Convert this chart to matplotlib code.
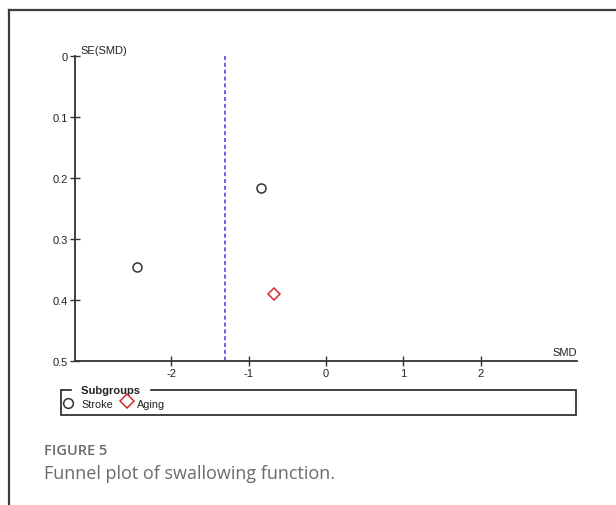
import matplotlib.pyplot as plt
from matplotlib.lines import Line2D
from matplotlib.patches import Rectangle

# dados
stroke_smd = [-0.835, -2.444]
stroke_se = [0.216, 0.346]
aging_smd = [-0.667]
aging_se = [0.390]
pooled_smd = -1.30
y_ticks = [0, 0.1, 0.2, 0.3, 0.4, 0.5]
y_labels = ["0", "0.1", "0.2", "0.3", "0.4", "0.5"]
x_ticks = [-2, -1, 0, 1, 2]
x_labels = ["-2", "-1", "0", "1", "2"]

W, H = 616, 506
fig = plt.figure(figsize=(W / 100, H / 100), dpi=100)
plt.rcParams['font.family'] = ['Liberation Sans', 'DejaVu Sans']

def px(x, y):
    return x / W, 1 - y / H

# moldura externa (linha superior e esquerda)
frame_col = "#3c3c3c"
fig.add_artist(Line2D([px(9, 0)[0], 1], [px(0, 10.5)[1]] * 2, color=frame_col, lw=1.6))
fig.add_artist(Line2D([px(9.3, 0)[0]] * 2, [0, px(0, 10.5)[1]], color=frame_col, lw=1.6))

ax = fig.add_axes([75 / W, (H - 362) / H, (577 - 75) / W, (362 - 57.3) / H])
ax.set_xlim(-3.24, 3.24)
ax.set_ylim(0.5, 0)

axis_col = "#333333"
for s in ["top", "right"]:
    ax.spines[s].set_visible(False)
for s in ["left", "bottom"]:
    ax.spines[s].set_color(axis_col)
    ax.spines[s].set_linewidth(1.3)

ax.set_xticks(x_ticks)
ax.set_xticklabels(x_labels)
ax.set_yticks(y_ticks)
ax.set_yticklabels(y_labels)
ax.tick_params(direction="inout", length=7, width=1.0, color=axis_col,
               labelsize=8, labelcolor="#222222", pad=1.5)

ax.plot([pooled_smd, pooled_smd], [0, 0.5], color="#4a4ae0", lw=1.2,
        linestyle=(0, (2.4, 1.7)))

ax.plot(stroke_smd, stroke_se, linestyle="none", marker="o", markersize=6.5,
        markerfacecolor="white", markeredgecolor="#333333", markeredgewidth=1.1,
        clip_on=False)
ax.plot(aging_smd, aging_se, linestyle="none", marker="D", markersize=6.5,
        markerfacecolor="white", markeredgecolor="#d42a2a", markeredgewidth=1.1,
        clip_on=False)

ax.annotate("SE(SMD)", xy=(0, 1), xycoords="axes fraction", xytext=(4, 1),
            textcoords="offset points", ha="left", va="bottom", fontsize=8,
            color="#222222")
ax.annotate("SMD", xy=(1, 0), xycoords="axes fraction", xytext=(0, 3),
            textcoords="offset points", ha="right", va="bottom", fontsize=8,
            color="#222222")

# legenda em caixa de grupo
x0, y0 = px(61, 416)
x1, y1 = px(576, 391)
fig.add_artist(Rectangle((x0, y0), x1 - x0, y1 - y0, transform=fig.transFigure,
                         facecolor="none", edgecolor="#333333", lw=1.3))
tx, ty = px(78, 391)
fig.text(tx, ty, " Subgroups ", fontsize=8, fontweight="bold", color="#222222",
         ha="left", va="center", backgroundcolor="white")
fig.add_artist(Line2D([px(68, 0)[0]], [px(0, 404)[1]], marker="o", markersize=7,
                      markerfacecolor="white", markeredgecolor="#333333",
                      markeredgewidth=1.1, transform=fig.transFigure, zorder=10))
fig.text(*px(81, 405), "Stroke", fontsize=7.8, color="#222222", ha="left", va="center")
fig.add_artist(Line2D([px(127, 0)[0]], [px(0, 402)[1]], marker="D", markersize=7.5,
                      markerfacecolor="white", markeredgecolor="#d42a2a",
                      markeredgewidth=1.1, transform=fig.transFigure, zorder=10))
fig.text(*px(137, 405), "Aging", fontsize=7.8, color="#222222", ha="left", va="center")

# legenda da figura
fig.text(*px(44, 451), "FIGURE 5", fontsize=10.5, fontweight="semibold",
         family=["Open Sans", "DejaVu Sans"], color="#6b6b6b", ha="left", va="center")
fig.text(*px(44, 474), "Funnel plot of swallowing function.", fontsize=13,
         family=["Open Sans", "DejaVu Sans"], color="#6b6b6b", ha="left", va="center")

fig.savefig("out.png", dpi=100)
